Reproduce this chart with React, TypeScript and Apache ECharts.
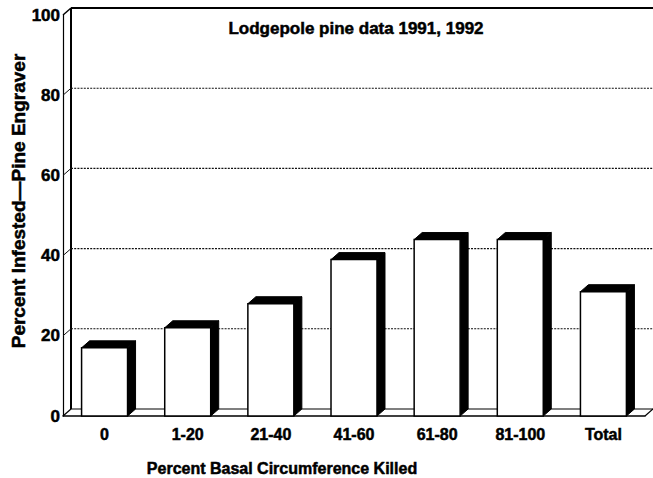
import { useEffect, useRef } from "react";
import * as echarts from "echarts";

const categories = ["0", "1-20", "21-40", "41-60", "61-80", "81-100", "Total"];
const percentInfested = [17, 22, 28, 39, 44, 44, 31];
const yTicks = [0, 20, 40, 60, 80, 100];
const titleText = "Lodgepole pine data 1991, 1992";
const xName = "Percent Basal Circumference Killed";
const yName = "Percent Infested\u2014Pine Engraver";

const DX = 8;
const DY = 7;
const FONT = "'Liberation Sans', Arial, Helvetica, sans-serif";
const HEAVY = { textBorderColor: "#000", textBorderWidth: 0.5 };

export default function App() {
  const ref = useRef<HTMLDivElement>(null);

  useEffect(() => {
    const chart = echarts.init(ref.current!, null, { renderer: "svg" });

    const frameRender = (params: any, api: any) => {
      const v = api.value(1);
      const cs = params.coordSys;
      const x0 = cs.x;
      const x1 = cs.x + cs.width;
      const y = api.coord([0, v])[1];
      const children: any[] = [];
      if (v === 0) {
        const yTop = api.coord([0, 100])[1];
        children.push(
          { type: "line", shape: { x1: x0, y1: y, x2: x0 + DX, y2: y - DY }, style: { stroke: "#000", lineWidth: 1.2 } },
          { type: "line", shape: { x1: x0 + DX, y1: y - DY, x2: x1 + DX, y2: y - DY }, style: { stroke: "#000", lineWidth: 1.2 } },
          { type: "line", shape: { x1: x1, y1: y, x2: x1 + DX, y2: y - DY }, style: { stroke: "#000", lineWidth: 1.2 } },
          { type: "line", shape: { x1: x0 + DX, y1: y - DY, x2: x0 + DX, y2: yTop - DY }, style: { stroke: "#000", lineWidth: 2 } }
        );
      } else if (v === 100) {
        children.push(
          { type: "line", shape: { x1: x0, y1: y, x2: x0 + DX, y2: y - DY }, style: { stroke: "#000", lineWidth: 1.5 } },
          { type: "line", shape: { x1: x0 + DX, y1: y - DY, x2: x1 + DX, y2: y - DY }, style: { stroke: "#000", lineWidth: 2 } }
        );
      } else {
        children.push(
          { type: "line", shape: { x1: x0, y1: y, x2: x0 + DX, y2: y - DY }, style: { stroke: "#111", lineWidth: 1 } },
          { type: "line", shape: { x1: x0 + DX, y1: y - DY, x2: x1 + DX, y2: y - DY }, style: { stroke: "#111", lineWidth: 1.1, lineDash: [2, 1.2] } }
        );
      }
      return { type: "group", children };
    };

    const barRender = (params: any, api: any) => {
      const idx = api.value(0);
      const val = api.value(1);
      const top = api.coord([idx, val]);
      const base = api.coord([idx, 0]);
      const band = api.size([1, 0])[0];
      const w = band * 0.553;
      const xl = top[0] - w / 2;
      const xr = top[0] + w / 2;
      const yt = top[1];
      const yb = base[1];
      return {
        type: "group",
        children: [
          {
            type: "polygon",
            shape: { points: [[xl, yt], [xl + DX, yt - DY], [xr + DX, yt - DY], [xr, yt]] },
            style: { fill: "#000", stroke: "#000", lineWidth: 1 },
          },
          {
            type: "polygon",
            shape: { points: [[xr, yt], [xr + DX, yt - DY], [xr + DX, yb - DY], [xr, yb]] },
            style: { fill: "#000", stroke: "#000", lineWidth: 1 },
          },
          {
            type: "rect",
            shape: { x: xl, y: yt, width: w, height: yb - yt },
            style: { fill: "#fff", stroke: "#000", lineWidth: 1.5 },
          },
        ],
      };
    };

    chart.setOption({
      animation: false,
      backgroundColor: "#fff",
      grid: { left: 63, right: 8, top: 15, bottom: 62 },
      xAxis: {
        type: "category",
        data: categories,
        axisLine: { show: true, lineStyle: { color: "#000", width: 1.5 } },
        axisTick: { show: false },
        axisLabel: { color: "#000", fontFamily: FONT, fontWeight: "bold", fontSize: 16, margin: 10, ...HEAVY },
      },
      yAxis: {
        type: "value",
        min: 0,
        max: 100,
        interval: 20,
        axisLine: { show: true, lineStyle: { color: "#000", width: 1.2 } },
        axisTick: { show: false },
        splitLine: { show: false },
        axisLabel: { color: "#000", fontFamily: FONT, fontWeight: "bold", fontSize: 17, margin: 3, ...HEAVY },
      },
      graphic: [
        {
          type: "text",
          x: 356,
          y: 20,
          style: { text: titleText, fill: "#000", font: `bold 17px ${FONT}`, align: "center", verticalAlign: "top", stroke: "#000", lineWidth: 0.5 },
        },
        {
          type: "text",
          x: 282,
          y: 468,
          style: { text: xName, fill: "#000", font: `bold 16px ${FONT}`, align: "center", verticalAlign: "middle", stroke: "#000", lineWidth: 0.5 },
        },
        {
          type: "text",
          x: 18,
          y: 201,
          rotation: Math.PI / 2,
          style: { text: yName, fill: "#000", font: `bold 19px ${FONT}`, align: "center", verticalAlign: "middle", stroke: "#000", lineWidth: 0.5 },
        },
      ],
      series: [
        {
          type: "custom",
          name: "frame",
          renderItem: frameRender,
          data: yTicks.map((v) => [0, v]),
          z: 1,
          silent: true,
        },
        {
          type: "custom",
          name: "bars",
          renderItem: barRender,
          data: categories.map((_, i) => [i, percentInfested[i]]),
          z: 5,
        },
      ],
    });

    return () => chart.dispose();
  }, []);

  return <div ref={ref} style={{ width: 653, height: 478, position: "absolute", left: 0, top: 0 }} />;
}
